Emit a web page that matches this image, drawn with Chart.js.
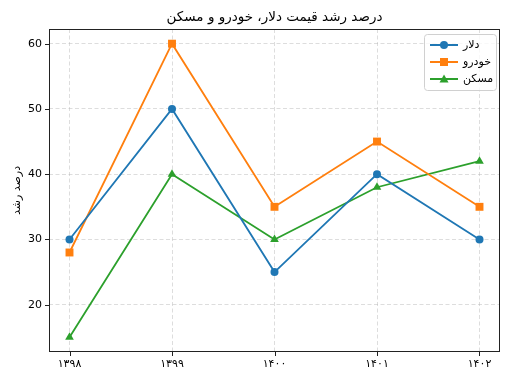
<!DOCTYPE html>
<html>
<head>
<meta charset="utf-8">
<script src="https://cdn.jsdelivr.net/npm/chart.js@4"></script>
<style>
  html, body { margin: 0; padding: 0; background: #fff; }
  #wrap { width: 524px; height: 387px; }
</style>
</head>
<body>
<div id="wrap"><canvas id="c" width="524" height="387"></canvas></div>
<script>
// داده‌ها
const years = ['۱۳۹۸', '۱۳۹۹', '۱۴۰۰', '۱۴۰۱', '۱۴۰۲'];
const dollar = [30, 50, 25, 40, 30];
const car = [28, 60, 35, 45, 35];
const housing = [15, 40, 30, 38, 42];
const yTicks = [20, 30, 40, 50, 60];

const chartTitle = 'درصد رشد قیمت دلار، خودرو و مسکن';
const yTitle = 'درصد رشد';
const FONT = '"DejaVu Sans", sans-serif';

function pts(arr) {
    return arr.map((v, i) => ({ x: i, y: v }));
}

// عنوان، قاب، تیک‌ها و راهنما
const decor = {
    id: 'decor',
    afterDraw(chart) {
        const ctx = chart.ctx;
        const a = chart.chartArea;
        const xs = chart.scales.x, ys = chart.scales.y;
        ctx.save();

        // قاب
        ctx.strokeStyle = '#222';
        ctx.lineWidth = 1;
        ctx.strokeRect(a.left + 0.5, a.top + 0.5, a.right - a.left - 1, a.bottom - a.top - 1);

        // تیک‌ها
        ctx.beginPath();
        years.forEach((_, i) => {
            const px = Math.round(xs.getPixelForValue(i)) + 0.5;
            ctx.moveTo(px, a.bottom);
            ctx.lineTo(px, a.bottom + 4);
        });
        yTicks.forEach(v => {
            const py = Math.round(ys.getPixelForValue(v)) + 0.5;
            ctx.moveTo(a.left, py);
            ctx.lineTo(a.left - 4, py);
        });
        ctx.stroke();

        ctx.fillStyle = '#000';
        ctx.font = '11px ' + FONT;
        ctx.textAlign = 'center';
        ctx.textBaseline = 'top';
        years.forEach((t, i) => ctx.fillText(t, xs.getPixelForValue(i), a.bottom + 7));
        ctx.textAlign = 'right';
        ctx.textBaseline = 'middle';
        yTicks.forEach(v => ctx.fillText(String(v), a.left - 7, ys.getPixelForValue(v)));

        // عنوان
        ctx.font = '13.5px ' + FONT;
        ctx.textAlign = 'center';
        ctx.textBaseline = 'middle';
        ctx.fillText(chartTitle, (a.left + a.right) / 2, 17);

        // عنوان محور y
        ctx.font = '11px ' + FONT;
        ctx.translate(17, (a.top + a.bottom) / 2);
        ctx.rotate(-Math.PI / 2);
        ctx.fillText(yTitle, 0, 0);
        ctx.restore();

        // راهنما
        ctx.save();
        const bx = a.right - 76, by = a.top + 5, bw = 72, bh = 56;
        ctx.fillStyle = 'rgba(255,255,255,0.8)';
        ctx.strokeStyle = '#d0d0d0';
        ctx.lineWidth = 1;
        ctx.beginPath();
        ctx.roundRect(bx + 0.5, by + 0.5, bw, bh, 3);
        ctx.fill();
        ctx.stroke();
        ctx.font = '11px ' + FONT;
        ctx.textBaseline = 'middle';
        ctx.textAlign = 'left';
        chart.data.datasets.forEach((ds, i) => {
            const ly = by + 11 + i * 17;
            ctx.strokeStyle = ds.borderColor;
            ctx.lineWidth = 2;
            ctx.beginPath();
            ctx.moveTo(bx + 6, ly);
            ctx.lineTo(bx + 34, ly);
            ctx.stroke();
            ctx.fillStyle = ds.backgroundColor;
            ctx.beginPath();
            if (ds.pointStyle === 'circle') {
                ctx.arc(bx + 20, ly, 4, 0, Math.PI * 2);
            } else if (ds.pointStyle === 'rect') {
                ctx.rect(bx + 16, ly - 4, 8, 8);
            } else {
                ctx.moveTo(bx + 20, ly - 4.5);
                ctx.lineTo(bx + 24.5, ly + 3.5);
                ctx.lineTo(bx + 15.5, ly + 3.5);
                ctx.closePath();
            }
            ctx.fill();
            ctx.fillStyle = '#000';
            ctx.fillText(ds.label, bx + 39, ly);
        });
        ctx.restore();
    }
};

const grid = {
    color: 'rgba(176,176,176,0.55)',
    lineWidth: 0.8,
    drawTicks: false
};
const border = { display: false, dash: [4, 2.5] };

new Chart(document.getElementById('c'), {
    type: 'line',
    data: {
        datasets: [
            { label: 'دلار', data: pts(dollar), borderColor: '#1f77b4', backgroundColor: '#1f77b4', pointStyle: 'circle', pointRadius: 4 },
            { label: 'خودرو', data: pts(car), borderColor: '#ff7f0e', backgroundColor: '#ff7f0e', pointStyle: 'rect', pointRadius: 5.6 },
            { label: 'مسکن', data: pts(housing), borderColor: '#2ca02c', backgroundColor: '#2ca02c', pointStyle: 'triangle', pointRadius: 5 }
        ].map(d => Object.assign(d, { borderWidth: 1.8, pointBorderWidth: 0, tension: 0 }))
    },
    options: {
        responsive: false,
        animation: false,
        devicePixelRatio: 1,
        layout: { padding: { top: 29, right: 24, left: 0, bottom: 0 } },
        plugins: { legend: { display: false }, title: { display: false }, tooltip: { enabled: false } },
        scales: {
            x: {
                type: 'linear',
                min: -0.2, max: 4.2,
                grid: grid,
                border: border,
                ticks: { display: false, stepSize: 1 },
                afterBuildTicks(s) { s.ticks = years.map((_, i) => ({ value: i })); },
                afterFit(s) { s.height = 35; }
            },
            y: {
                min: 12.75, max: 62.25,
                grid: grid,
                border: border,
                ticks: { display: false },
                afterBuildTicks(s) { s.ticks = yTicks.map(v => ({ value: v })); },
                afterFit(s) { s.width = 49; }
            }
        }
    },
    plugins: [decor]
});
</script>
</body>
</html>
